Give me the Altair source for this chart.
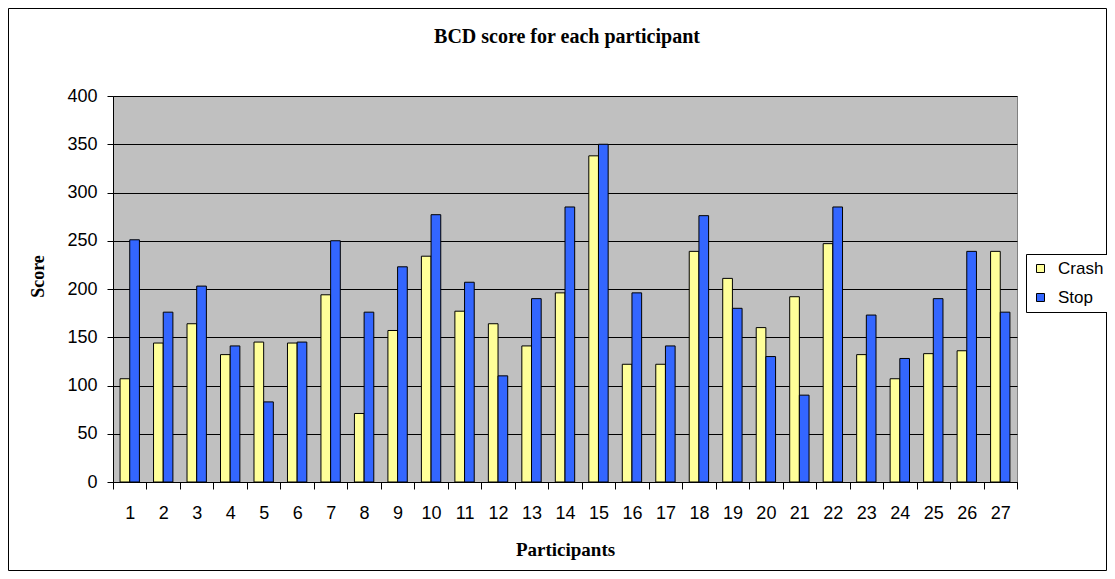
import altair as alt
import pandas as pd

title_text = "BCD score for each participant"
participants = list(range(1, 28))
crash = [107, 144, 164, 132, 145, 144, 194, 71, 157, 234, 177, 164, 141, 196,
         338, 122, 122, 239, 211, 160, 192, 247, 132, 107, 133, 136, 239]
stop = [251, 176, 203, 141, 83, 145, 250, 176, 223, 277, 207, 110, 190, 285,
        350, 196, 141, 276, 180, 130, 90, 285, 173, 128, 190, 239, 176]
series = ["Crash", "Stop"]
colors = ["#FFFF99", "#3366FF"]
y_ticks = [0, 50, 100, 150, 200, 250, 300, 350, 400]

rows = []
for p, c, s in zip(participants, crash, stop):
    rows.append({"Participant": p, "Series": series[0], "Score": c})
    rows.append({"Participant": p, "Series": series[1], "Score": s})
df = pd.DataFrame(rows)

W, H = 904, 386
PAD = {"left": 105, "top": 88, "right": 90, "bottom": 89}

bars = alt.Chart(df).mark_bar(stroke="black", strokeWidth=1).encode(
    x=alt.X(
        "Participant:O",
        scale=alt.Scale(paddingInner=0, paddingOuter=0),
        axis=alt.Axis(
            title="Participants", labelAngle=0, grid=False, tickBand="extent",
            tickSize=7, tickColor="black", domainColor="black",
            labelFont="Liberation Sans", labelFontSize=18, labelColor="black",
            labelPadding=15,
            titleFont="Liberation Serif", titleFontSize=19, titleFontWeight="bold",
            titleColor="black", titleX=W / 2, titleY=73, titleBaseline="alphabetic",
        ),
    ),
    xOffset=alt.XOffset(
        "Series:N",
        scale=alt.Scale(domain=series, paddingInner=0, paddingOuter=0.73),
    ),
    y=alt.Y(
        "Score:Q",
        scale=alt.Scale(domain=[0, 400], nice=False),
        axis=alt.Axis(
            title="Score", values=y_ticks, grid=True, gridColor="black",
            gridWidth=1, tickSize=6, tickColor="black", domainColor="black",
            labelFont="Liberation Sans", labelFontSize=18, labelColor="black",
            labelPadding=10,
            titleFont="Liberation Serif", titleFontSize=18, titleFontWeight="bold",
            titleColor="black", titleAngle=270, titleX=-70, titleY=180,
            titleBaseline="alphabetic", titleAlign="center",
        ),
    ),
    color=alt.Color(
        "Series:N",
        scale=alt.Scale(domain=series, range=colors),
        legend=alt.Legend(
            title=None, orient="none", legendX=913, legendY=158,
            strokeColor="black", fillColor="white", padding=6,
            symbolType="square", symbolSize=64, symbolStrokeColor="black",
            symbolStrokeWidth=1, labelFont="Liberation Sans", labelFontSize=17,
            labelColor="black", labelOffset=9, rowPadding=11,
        ),
    ),
)

border = alt.Chart(pd.DataFrame({"k": [0]})).mark_rect(
    fill="transparent", stroke="black", strokeWidth=1
).encode(
    x=alt.value(-PAD["left"] + 0.5),
    x2=alt.value(W + PAD["right"] - 0.5),
    y=alt.value(-PAD["top"] + 0.5),
    y2=alt.value(H + PAD["bottom"] - 0.5),
)

title = alt.Chart(pd.DataFrame({"k": [0]})).mark_text(
    font="Liberation Serif", fontSize=20, fontWeight="bold", color="black",
    align="center", baseline="alphabetic",
).encode(
    x=alt.value(W / 2 + 2),
    y=alt.value(-53),
    text=alt.value(title_text),
)

chart = alt.layer(border, title, bars).properties(
    width=W,
    height=H,
    autosize=alt.AutoSizeParams(type="none"),
    padding=PAD,
    background="white",
).configure_view(
    stroke="#808080", fill="#C0C0C0"
)

chart.save("out.html", embed_options={"renderer": "svg", "actions": False})
